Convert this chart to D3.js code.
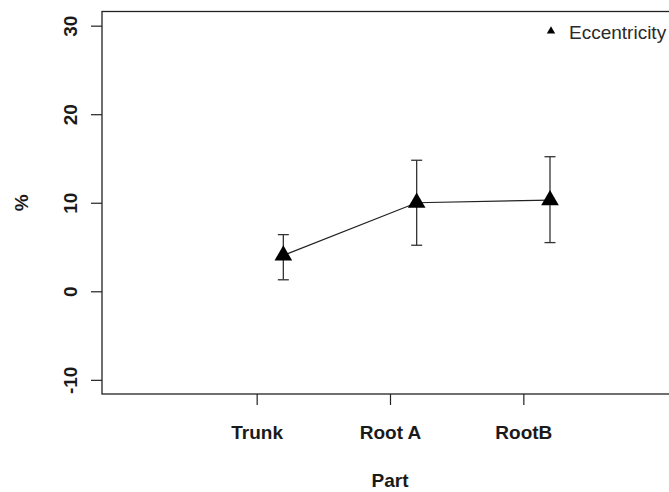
<!DOCTYPE html>
<html>
<head>
<meta charset="utf-8">
<script src="https://cdn.jsdelivr.net/npm/d3@7"></script>
<style>
  body { margin: 0; background: #fff; }
  svg { display: block; font-family: "Liberation Sans", Arial, sans-serif; }
</style>
</head>
<body>
<div id="chart"></div>
<script>
// values
var parts = ["Trunk", "Root A", "RootB"];
var ecc = [4.05, 10.0, 10.3];
var eccLow = [1.3, 5.2, 5.5];
var eccHigh = [6.4, 14.8, 15.2];
var yTicks = [-10, 0, 10, 20, 30];

var W = 669, H = 492;
var dodge = 0.2;

var x = d3.scaleLinear().domain([-0.16, 4.16]).range([102, 678]);
var y = d3.scaleLinear().domain([-11.6, 31.6]).range([394, 11.5]);

var svg = d3.select("#chart").append("svg")
    .attr("width", W)
    .attr("height", H);

var data = parts.map(function(p, i) {
  return {name: p, pos: i + 1, val: ecc[i], lo: eccLow[i], hi: eccHigh[i]};
});

// plot box
svg.append("rect")
  .attr("x", x(-0.16)).attr("y", y(31.6))
  .attr("width", x(4.16) - x(-0.16))
  .attr("height", y(-11.6) - y(31.6))
  .attr("fill", "none")
  .attr("stroke", "#222")
  .attr("stroke-width", 1.3);

// y axis
var yAxis = svg.append("g")
  .attr("transform", "translate(" + x(-0.16) + ",0)")
  .call(d3.axisLeft(y).tickValues(yTicks).tickSize(11)
    .tickFormat(function(d) { return String(d); }));
yAxis.select(".domain").remove();
yAxis.selectAll(".tick line").attr("stroke", "#222").attr("stroke-width", 1.2);
yAxis.selectAll(".tick text")
  .attr("x", 0).attr("dy", 0)
  .attr("transform", "translate(-25,0) rotate(-90)")
  .attr("text-anchor", "middle")
  .attr("font-size", 19)
  .attr("font-weight", "bold")
  .attr("font-family", "Liberation Sans, Arial, sans-serif")
  .attr("fill", "#1a1a1a");

// x axis
var xAxis = svg.append("g")
  .attr("transform", "translate(0," + y(-11.6) + ")")
  .call(d3.axisBottom(x).tickValues([1, 2, 3]).tickSize(11)
    .tickFormat(function(d) { return parts[d - 1]; }));
xAxis.select(".domain").remove();
xAxis.selectAll(".tick line").attr("stroke", "#222").attr("stroke-width", 1.2);
xAxis.selectAll(".tick text")
  .attr("y", 45).attr("dy", 0)
  .attr("font-size", 19)
  .attr("font-weight", "bold")
  .attr("font-family", "Liberation Sans, Arial, sans-serif")
  .attr("fill", "#1a1a1a");

// axis titles
svg.append("text")
  .attr("x", x(2)).attr("y", 487)
  .attr("text-anchor", "middle")
  .attr("font-size", 19)
  .attr("font-weight", "bold")
  .attr("fill", "#1a1a1a")
  .text("Part");

svg.append("text")
  .attr("transform", "translate(28," + ((y(-11.6) + y(31.6)) / 2) + ") rotate(-90)")
  .attr("text-anchor", "middle")
  .attr("font-size", 19)
  .attr("font-weight", "bold")
  .attr("fill", "#1a1a1a")
  .text("%");

// error bars
var err = svg.append("g").attr("stroke", "#333").attr("stroke-width", 1.3);
err.selectAll(".ebar")
  .data(data)
  .enter().append("line")
    .attr("class", "ebar")
    .attr("x1", function(d) { return x(d.pos + dodge); })
    .attr("x2", function(d) { return x(d.pos + dodge); })
    .attr("y1", function(d) { return y(d.lo); })
    .attr("y2", function(d) { return y(d.hi); });
["lo", "hi"].forEach(function(k) {
  err.selectAll(".cap_" + k)
    .data(data)
    .enter().append("line")
      .attr("class", "cap_" + k)
      .attr("x1", function(d) { return x(d.pos + dodge) - 5.5; })
      .attr("x2", function(d) { return x(d.pos + dodge) + 5.5; })
      .attr("y1", function(d) { return y(d[k]); })
      .attr("y2", function(d) { return y(d[k]); });
});

// connecting line
var line = d3.line()
  .x(function(d) { return x(d.pos + dodge); })
  .y(function(d) { return y(d.val); });
svg.append("path")
  .datum(data)
  .attr("d", line)
  .attr("fill", "none")
  .attr("stroke", "#222")
  .attr("stroke-width", 1.2);

// triangle markers
var tri = d3.symbol().type(d3.symbolTriangle).size(135);
svg.selectAll(".pt")
  .data(data)
  .enter().append("path")
    .attr("class", "pt")
    .attr("d", tri)
    .attr("transform", function(d) {
      return "translate(" + x(d.pos + dodge) + "," + y(d.val) + ")";
    })
    .attr("fill", "#000");

// legend
svg.append("path")
  .attr("d", d3.symbol().type(d3.symbolTriangle).size(30))
  .attr("transform", "translate(551,31)")
  .attr("fill", "#000");
svg.append("text")
  .attr("x", 569).attr("y", 39)
  .attr("font-size", 19)
  .attr("fill", "#2a2a2a")
  .text("Eccentricity");
</script>
</body>
</html>
